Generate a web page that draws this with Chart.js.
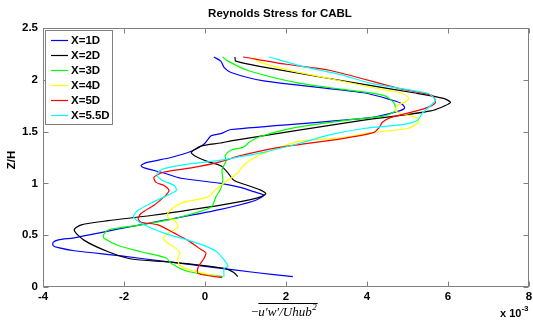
<!DOCTYPE html>
<html>
<head>
<meta charset="utf-8">
<title>Reynolds Stress for CABL</title>
<script src="https://cdn.jsdelivr.net/npm/chart.js@4.4.1/dist/chart.umd.min.js"></script>
<style>
    html, body { margin: 0; padding: 0; background: #fff; }
    #stressChart { display: block; }
</style>
</head>
<body>
<canvas id="stressChart" width="533" height="320"></canvas>
<script>
    // downstream stations
    const seriesLabels = ['X=1D', 'X=2D', 'X=3D', 'X=4D', 'X=5D', 'X=5.5D'];
    const lineColors = ['#0000ff', '#000000', '#00ff00', '#ffff00', '#ff0000', '#00ffff'];

    // Z/H levels and -u'w'/Uhub^2 (x 1e-3) for each station
    const z1D = [0.10, 0.14, 0.19, 0.25, 0.30, 0.35, 0.38, 0.40, 0.43, 0.455, 0.475, 0.57, 0.645, 0.75, 0.83, 0.885, 0.92, 0.96, 1.00, 1.05, 1.10, 1.15, 1.17, 1.20, 1.25, 1.31, 1.38, 1.46, 1.48, 1.52, 1.635, 1.70, 1.73, 1.77, 1.80, 1.875, 1.99, 2.07, 2.12, 2.18, 2.22];
    const uw1D = [2.17, 1.24, 0.20, -1.06, -2.07, -3.23, -3.62, -3.75, -3.75, -3.62, -3.23, -2.00, -1.00, 0.39, 1.20, 1.45, 1.20, 0.90, 0.39, -0.59, -1.01, -1.50, -1.58, -1.45, -0.84, -0.34, -0.02, 0.15, 0.39, 0.64, 4.09, 4.80, 4.93, 4.85, 4.65, 3.92, 1.45, 0.64, 0.47, 0.39, 0.22];

    const z2D = [0.10, 0.14, 0.18, 0.24, 0.27, 0.34, 0.45, 0.55, 0.60, 0.64, 0.69, 0.79, 0.86, 0.90, 0.94, 0.98, 1.03, 1.10, 1.17, 1.21, 1.27, 1.30, 1.36, 1.39, 1.41, 1.61, 1.70, 1.78, 1.82, 1.875, 1.96, 2.11, 2.18, 2.22];
    const uw2D = [0.81, 0.71, 0.47, -0.84, -1.82, -2.39, -2.98, -3.23, -3.05, -2.39, -1.33, 0.39, 1.30, 1.50, 1.35, 1.06, 0.71, 0.57, 0.39, 0.07, -0.27, -0.34, -0.10, 0.39, 0.64, 3.92, 5.57, 6.06, 5.89, 5.15, 3.85, 1.63, 0.76, 0.74];

    const z3D = [0.10, 0.15, 0.23, 0.28, 0.34, 0.40, 0.47, 0.50, 0.55, 0.60, 0.66, 0.77, 0.87, 0.95, 1.03, 1.13, 1.22, 1.27, 1.32, 1.35, 1.40, 1.45, 1.54, 1.615, 1.65, 1.70, 1.78, 1.85, 1.91, 1.97, 2.09, 2.18, 2.22];
    const uw3D = [0.44, -0.42, -0.84, -0.96, -1.58, -2.14, -2.49, -2.51, -2.39, -1.58, -0.76, 0.15, 0.27, 0.39, 0.44, 0.42, 0.52, 0.50, 0.64, 0.95, 1.10, 1.35, 2.25, 3.60, 4.41, 4.70, 4.66, 4.41, 3.35, 2.29, 1.06, 0.57, 0.44];

    const z4D = [0.10, 0.16, 0.21, 0.28, 0.33, 0.385, 0.42, 0.47, 0.52, 0.58, 0.645, 0.67, 0.72, 0.81, 0.87, 0.96, 1.10, 1.17, 1.27, 1.35, 1.41, 1.44, 1.49, 1.53, 1.59, 1.63, 1.67, 1.70, 1.75, 1.80, 1.83, 1.875, 1.91, 2.01, 2.11, 2.18, 2.22];
    const uw4D = [0.34, -0.34, -0.62, -0.67, -0.62, -0.76, -0.91, -1.03, -0.91, -0.67, -0.76, -0.91, -0.91, -0.59, 0.07, 0.32, 0.81, 0.94, 1.31, 1.87, 2.36, 3.35, 4.10, 5.00, 5.27, 5.25, 4.90, 4.70, 4.75, 5.00, 5.02, 4.83, 4.33, 3.10, 1.87, 1.31, 1.21];

    const z5D = [0.09, 0.13, 0.19, 0.28, 0.33, 0.38, 0.45, 0.52, 0.60, 0.625, 0.66, 0.71, 0.79, 0.87, 0.93, 0.98, 1.01, 1.06, 1.11, 1.15, 1.20, 1.27, 1.35, 1.43, 1.49, 1.54, 1.59, 1.635, 1.72, 1.78, 1.85, 1.92, 2.09, 2.15, 2.22];
    const uw5D = [0.42, -0.17, -0.17, -0.02, 0.02, -0.17, -0.42, -0.76, -1.16, -1.58, -1.65, -1.58, -1.26, -1.01, -0.89, -1.01, -1.21, -1.26, -1.01, -0.34, 0.30, 0.90, 1.87, 3.35, 4.16, 4.30, 4.38, 4.58, 5.40, 5.69, 5.60, 4.75, 3.10, 2.00, 0.94];

    const z55D = [0.10, 0.18, 0.20, 0.33, 0.385, 0.45, 0.52, 0.615, 0.68, 0.74, 0.81, 0.87, 0.93, 0.98, 1.02, 1.06, 1.10, 1.14, 1.19, 1.22, 1.26, 1.30, 1.39, 1.47, 1.53, 1.57, 1.61, 1.68, 1.75, 1.80, 1.83, 1.87, 1.96, 2.05, 2.13, 2.22];
    const uw55D = [0.47, 0.47, 0.57, 0.32, 0.07, -0.40, -1.01, -1.58, -1.77, -1.65, -1.33, -1.01, -0.71, -0.76, -1.01, -1.16, -1.18, -1.03, -0.34, 0.32, 0.90, 1.45, 2.36, 3.10, 3.92, 4.90, 5.25, 5.37, 5.57, 5.69, 5.64, 5.50, 4.16, 3.35, 2.40, 1.58];

    const heights = [z1D, z2D, z3D, z4D, z5D, z55D];
    const stress = [uw1D, uw2D, uw3D, uw4D, uw5D, uw55D];

    const sans = '"Liberation Sans", Arial, sans-serif';
    const serif = '"Liberation Serif", "Times New Roman", serif';
    const frameColor = '#808080';

    // boxed axes with inward ticks on all four sides, legend and labels
    const matlabAxes = {
        id: 'matlabAxes',
        afterDraw(chart) {
            const { ctx, chartArea: a, scales } = chart;
            const L = Math.round(a.left) + 0.5, R = Math.round(a.right) - 0.5;
            const T = Math.round(a.top) + 0.5, B = Math.round(a.bottom) - 0.5;
            const tl = 5;

            ctx.save();
            ctx.strokeStyle = frameColor;
            ctx.lineWidth = 1;
            ctx.strokeRect(L, T, R - L, B - T);

            ctx.beginPath();
            scales.x.ticks.forEach(t => {
                const px = Math.round(scales.x.getPixelForValue(t.value)) + 0.5;
                ctx.moveTo(px, B); ctx.lineTo(px, B - tl);
                ctx.moveTo(px, T); ctx.lineTo(px, T + tl);
            });
            scales.y.ticks.forEach(t => {
                const py = Math.round(scales.y.getPixelForValue(t.value)) + 0.5;
                ctx.moveTo(L, py); ctx.lineTo(L + tl, py);
                ctx.moveTo(R, py); ctx.lineTo(R - tl, py);
            });
            ctx.stroke();

            // title
            ctx.fillStyle = '#000';
            ctx.font = 'bold 11.5px ' + sans;
            ctx.textAlign = 'center';
            ctx.textBaseline = 'middle';
            ctx.fillText('Reynolds Stress for CABL', 280, 14);

            // y label
            ctx.save();
            ctx.translate(12, 160);
            ctx.rotate(-Math.PI / 2);
            ctx.fillText('Z/H', 0, 0);
            ctx.restore();

            // x label: overline over u'w'/Uhub^2
            ctx.textAlign = 'left';
            ctx.textBaseline = 'alphabetic';
            const base = 316;
            let x0 = 251;
            ctx.font = '13px ' + serif;
            ctx.fillText('\u2212', x0, base);
            x0 += ctx.measureText('\u2212').width;
            const barStart = x0;
            ctx.font = 'italic 13px ' + serif;
            ctx.fillText('u\u2032w\u2032/Uhub', x0, base);
            x0 += ctx.measureText('u\u2032w\u2032/Uhub').width + 0.5;
            ctx.font = 'italic 9px ' + serif;
            ctx.fillText('2', x0, base - 6);
            x0 += ctx.measureText('2').width;
            ctx.beginPath();
            ctx.strokeStyle = '#000';
            ctx.moveTo(barStart, 303.5);
            ctx.lineTo(x0 + 1, 303.5);
            ctx.stroke();

            // axis multiplier
            ctx.font = 'bold 11px ' + sans;
            ctx.fillText('x 10', 500, 317);
            const mw = ctx.measureText('x 10').width;
            ctx.font = 'bold 8px ' + sans;
            ctx.fillText('-3', 500 + mw, 311);

            // legend
            const box = { left: 45.5, top: 30.5, right: 112.5, bottom: 124.5 };
            ctx.fillStyle = '#fff';
            ctx.fillRect(box.left, box.top, box.right - box.left, box.bottom - box.top);
            ctx.strokeStyle = frameColor;
            ctx.strokeRect(box.left, box.top, box.right - box.left, box.bottom - box.top);
            ctx.font = 'bold 11.5px ' + sans;
            ctx.textBaseline = 'middle';
            chart.data.datasets.forEach((ds, i) => {
                const y = 40 + i * 15;
                ctx.beginPath();
                ctx.strokeStyle = ds.borderColor;
                ctx.lineWidth = 1.2;
                ctx.moveTo(51, y + 0.5);
                ctx.lineTo(68, y + 0.5);
                ctx.stroke();
                ctx.fillStyle = '#000';
                ctx.fillText(ds.label, 71, y + 0.5);
            });
            ctx.restore();
        }
    };

    const datasets = seriesLabels.map((label, i) => ({
        label,
        data: heights[i].map((z, k) => ({ x: stress[i][k], y: z })),
        showLine: true,
        borderColor: lineColors[i],
        backgroundColor: lineColors[i],
        borderWidth: 1.2,
        pointRadius: 0,
        tension: 0.25,
        fill: false,
        order: seriesLabels.length - i
    }));

    const tickFont = { family: sans, size: 11.5, weight: 'bold' };

    new Chart(document.getElementById('stressChart').getContext('2d'), {
        type: 'scatter',
        data: { datasets },
        options: {
            responsive: false,
            animation: false,
            layout: { padding: { left: 0, right: 4, top: 28, bottom: 0 } },
            plugins: {
                legend: { display: false },
                title: { display: false },
                tooltip: { enabled: false }
            },
            scales: {
                x: {
                    type: 'linear',
                    min: -4,
                    max: 8,
                    ticks: { stepSize: 2, color: '#000', font: tickFont, padding: 3, maxRotation: 0 },
                    grid: { display: false, drawTicks: false },
                    border: { display: false },
                    afterFit: s => { s.height = 33; s.paddingLeft = 0; s.paddingRight = 0; }
                },
                y: {
                    type: 'linear',
                    min: 0,
                    max: 2.5,
                    ticks: {
                        stepSize: 0.5,
                        color: '#000',
                        font: tickFont,
                        padding: 5,
                        callback: v => String(v)
                    },
                    grid: { display: false, drawTicks: false },
                    border: { display: false },
                    afterFit: s => { s.width = 43; s.paddingTop = 0; s.paddingBottom = 0; }
                }
            }
        },
        plugins: [matlabAxes]
    });
</script>
</body>
</html>
